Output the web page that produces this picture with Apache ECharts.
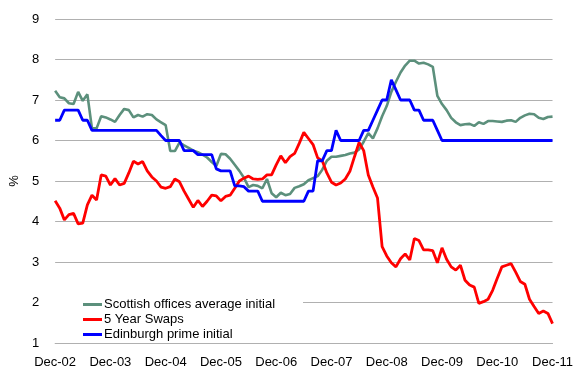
<!DOCTYPE html>
<html>
<head>
<meta charset="utf-8">
<script src="https://cdn.jsdelivr.net/npm/echarts@6/dist/echarts.min.js"></script>
<style>
  html, body { margin: 0; padding: 0; background: #fff; }
  #chart { width: 576px; height: 369px; }
</style>
</head>
<body>
<div id="chart"></div>
<script>
// Monthly observations, Dec-02 through Dec-11 (109 months)
const startYear = 2002;
const monthNames = ['Dec', 'Jan', 'Feb', 'Mar', 'Apr', 'May', 'Jun', 'Jul', 'Aug', 'Sep', 'Oct', 'Nov'];

const scottishOffices = [
  7.23, 7.07, 7.04, 6.92, 6.90, 7.20, 6.98, 7.14, 6.30, 6.30,
  6.60, 6.57, 6.52, 6.46, 6.63, 6.78, 6.75, 6.57, 6.63, 6.59,
  6.65, 6.63, 6.52, 6.45, 6.38, 5.74, 5.74, 5.95, 5.88, 5.82,
  5.75, 5.71, 5.65, 5.58, 5.47, 5.37, 5.67, 5.66, 5.55, 5.40,
  5.25, 5.08, 4.85, 4.90, 4.88, 4.82, 5.05, 4.70, 4.60, 4.71,
  4.65, 4.68, 4.83, 4.87, 4.92, 5.02, 5.07, 5.12, 5.28, 5.50,
  5.60, 5.60, 5.62, 5.64, 5.68, 5.70, 5.78, 5.97, 6.18, 6.05,
  6.30, 6.60, 6.85, 7.20, 7.45, 7.68, 7.85, 7.97, 7.97, 7.90,
  7.92, 7.88, 7.82, 7.10, 6.90, 6.75, 6.56, 6.45, 6.38, 6.40,
  6.41, 6.36, 6.45, 6.41, 6.48, 6.48, 6.47, 6.46, 6.49, 6.50,
  6.46, 6.56, 6.62, 6.66, 6.65, 6.56, 6.53, 6.58, 6.59
];

const fiveYearSwaps = [
  4.51, 4.33, 4.04, 4.17, 4.20, 3.94, 3.96, 4.41, 4.65, 4.53,
  5.15, 5.12, 4.90, 5.06, 4.90, 4.94, 5.20, 5.49, 5.42, 5.48,
  5.25, 5.10, 5.00, 4.85, 4.82, 4.86, 5.05, 4.98, 4.75, 4.55,
  4.35, 4.52, 4.37, 4.50, 4.65, 4.63, 4.51, 4.62, 4.65, 4.82,
  5.00, 5.07, 5.12, 5.05, 5.04, 5.05, 5.15, 5.15, 5.40, 5.62,
  5.45, 5.60, 5.68, 5.93, 6.20, 6.05, 5.90, 5.57, 5.50, 5.20,
  4.97, 4.90, 4.95, 5.05, 5.24, 5.60, 5.95, 5.75, 5.15, 4.85,
  4.58, 3.38, 3.15, 2.98, 2.88, 3.08, 3.20, 3.05, 3.58, 3.53,
  3.30, 3.30, 3.28, 2.98, 3.35, 3.07, 2.88, 2.80, 2.92, 2.55,
  2.43, 2.38, 1.98, 2.02, 2.08, 2.30, 2.60, 2.88, 2.92, 2.96,
  2.75, 2.52, 2.45, 2.08, 1.90, 1.73, 1.79, 1.73, 1.48
];

const edinburghPrime = [
  6.50, 6.50, 6.75, 6.75, 6.75, 6.75, 6.50, 6.50, 6.25, 6.25,
  6.25, 6.25, 6.25, 6.25, 6.25, 6.25, 6.25, 6.25, 6.25, 6.25,
  6.25, 6.25, 6.25, 6.12, 6.00, 6.00, 6.00, 6.00, 5.75, 5.75,
  5.75, 5.65, 5.65, 5.65, 5.65, 5.30, 5.25, 5.25, 5.25, 4.88,
  4.88, 4.86, 4.75, 4.75, 4.75, 4.50, 4.50, 4.50, 4.50, 4.50,
  4.50, 4.50, 4.50, 4.50, 4.50, 4.75, 4.75, 5.50, 5.50, 5.75,
  5.75, 6.25, 6.00, 6.00, 6.00, 6.00, 6.00, 6.25, 6.25, 6.50,
  6.75, 7.00, 7.00, 7.50, 7.25, 7.00, 7.00, 7.00, 6.75, 6.75,
  6.50, 6.50, 6.50, 6.25, 6.00, 6.00, 6.00, 6.00, 6.00, 6.00,
  6.00, 6.00, 6.00, 6.00, 6.00, 6.00, 6.00, 6.00, 6.00, 6.00,
  6.00, 6.00, 6.00, 6.00, 6.00, 6.00, 6.00, 6.00, 6.00
];

const seriesNames = ['Scottish offices average initial', '5 Year Swaps', 'Edinburgh prime initial'];
const seriesColors = ['#5c907c', '#ff0000', '#0000ff'];

// Month labels such as "Dec-02", "Jan-03", ...
const months = scottishOffices.map((_, i) => {
  const yr = startYear + Math.floor((i + 11) / 12);
  return monthNames[i % 12] + '-' + String(yr % 100).padStart(2, '0');
});

const font = 'Liberation Sans, Arial, sans-serif';
const gridColor = '#b0b0b0';

const chart = echarts.init(document.getElementById('chart'), null, { renderer: 'canvas' });

chart.setOption({
  animation: false,
  backgroundColor: '#ffffff',
  grid: { left: 52, right: 22, top: 19, bottom: 26 },
  legend: {
    orient: 'vertical',
    left: 52,
    top: 293,
    data: seriesNames,
    icon: 'rect',
    itemWidth: 19,
    itemHeight: 3,
    itemGap: 0,
    backgroundColor: '#ffffff',
    padding: [4, 28, 0, 31],
    textStyle: { fontFamily: font, fontSize: 13, color: '#000', lineHeight: 15, padding: [0, 0, 0, -3] },
    z: 10
  },
  xAxis: {
    type: 'category',
    data: months,
    boundaryGap: false,
    axisLine: { show: true, lineStyle: { color: gridColor, width: 1 } },
    axisTick: { show: false },
    axisLabel: {
      interval: 11,
      margin: 13,
      fontFamily: font,
      fontSize: 13,
      color: '#000'
    },
    splitLine: { show: false }
  },
  yAxis: {
    type: 'value',
    min: 1,
    max: 9,
    interval: 1,
    name: '%',
    nameLocation: 'middle',
    nameRotate: 90,
    nameGap: 30,
    nameTextStyle: { fontFamily: font, fontSize: 13, color: '#000' },
    axisLine: { show: false },
    axisTick: { show: false },
    axisLabel: { margin: 16, fontFamily: font, fontSize: 13, color: '#000' },
    splitLine: { show: true, lineStyle: { color: gridColor, width: 1 } }
  },
  series: [
    {
      name: seriesNames[0],
      type: 'line',
      data: scottishOffices,
      showSymbol: false,
      symbol: 'none',
      lineStyle: { color: seriesColors[0], width: 2.6 },
      itemStyle: { color: seriesColors[0] }
    },
    {
      name: seriesNames[1],
      type: 'line',
      data: fiveYearSwaps,
      showSymbol: false,
      symbol: 'none',
      lineStyle: { color: seriesColors[1], width: 2.8 },
      itemStyle: { color: seriesColors[1] }
    },
    {
      name: seriesNames[2],
      type: 'line',
      data: edinburghPrime,
      showSymbol: false,
      symbol: 'none',
      lineStyle: { color: seriesColors[2], width: 2.8 },
      itemStyle: { color: seriesColors[2] }
    }
  ]
});
</script>
</body>
</html>
